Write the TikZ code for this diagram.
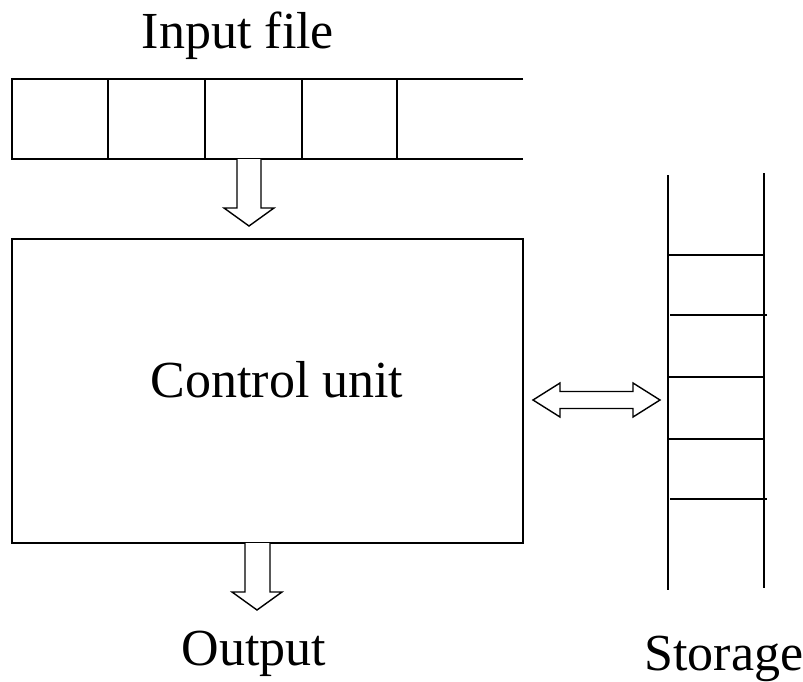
\documentclass[tikz,border=0pt]{standalone}
\usepackage{fontspec}
\setmainfont{Liberation Serif}
\usetikzlibrary{positioning}

\tikzset{
  wire/.style={line width=2pt},
  fatarrow/.style={draw, line width=1.4pt, fill=white, line join=miter},
  bigtext/.style={font=\fontsize{52}{60}\selectfont, anchor=base, inner sep=0pt}
}

\begin{document}
\begin{tikzpicture}[x=1pt, y=-1pt]
  \useasboundingbox (0,0) rectangle (803,682);

  % Input tape
  \node[bigtext] (inlabel) at (238,49) {Input file};
  \draw[wire] (523,79) -- (12,79) -- (12,159) -- (523,159);
  \foreach \x in {108,205,302,397} {
    \draw[wire] (\x,79) -- (\x,159);
  }

  % Control unit
  \node[draw, wire, minimum width=511pt, minimum height=304pt, inner sep=0pt] (ctrl) at (267.5,391) {};
  \node[bigtext] (ctrllabel) at (277,397) {Control unit};

  % Tape -> control unit
  \draw[fatarrow] (237,159) -- (237,208) -- (224,208) -- (249,226) -- (274,208)
    -- (261,208) -- (261,159);

  % Control unit -> output
  \draw[fatarrow] (245,543) -- (245,592) -- (232,592) -- (257,610) -- (282,592)
    -- (270,592) -- (270,543);
  \node[bigtext] (outlabel) at (254,665) {Output};

  % Control unit <-> storage
  \draw[fatarrow] (533,400) -- (560,383) -- (560,391.5) -- (633,391.5) -- (633,383)
    -- (660,400) -- (633,417) -- (633,408.5) -- (560,408.5) -- (560,417) -- cycle;

  % Storage stack
  \draw[wire] (668,175) -- (668,590);
  \draw[wire] (764,173) -- (764,588);
  \foreach \y/\xa/\xb in {255/668/764, 315/670/767, 377/668/764, 439/668/764, 499/670/767} {
    \draw[wire] (\xa,\y) -- (\xb,\y);
  }
  \node[bigtext] (storelabel) at (724,670) {Storage};
\end{tikzpicture}
\end{document}
